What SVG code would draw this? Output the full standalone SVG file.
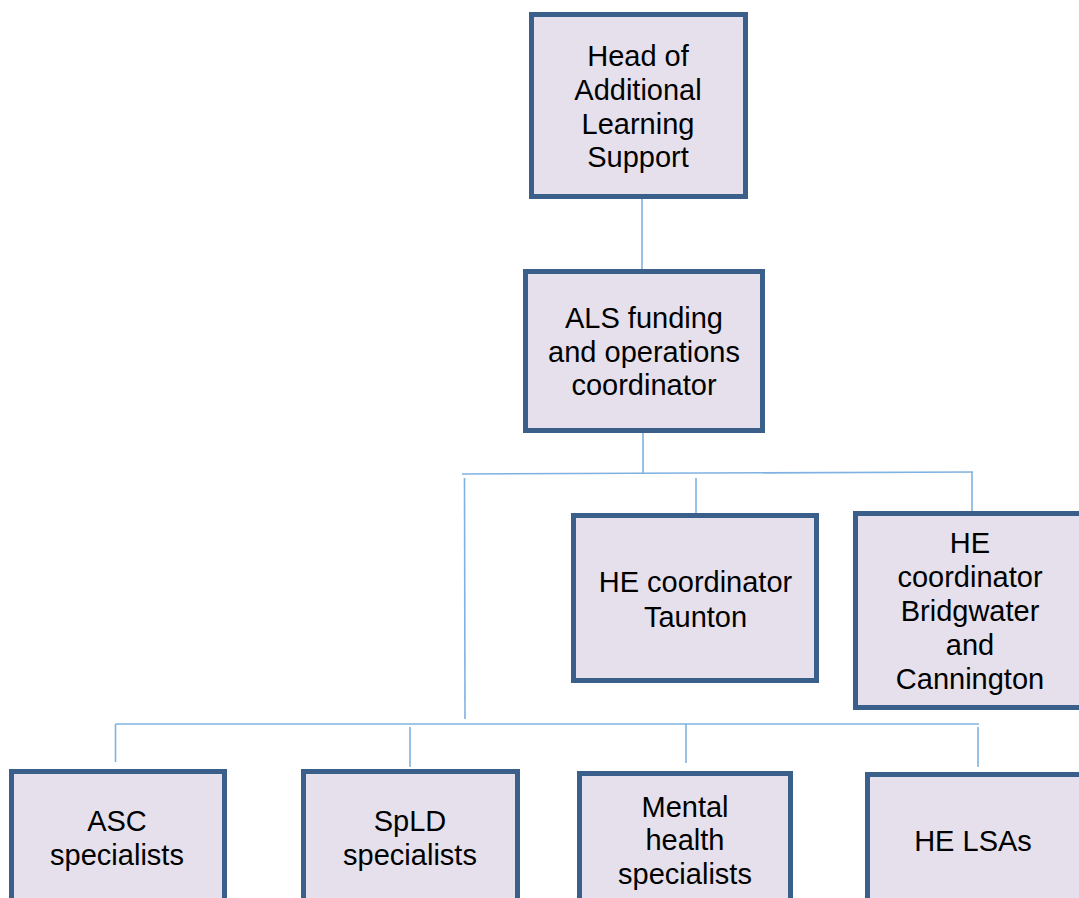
<svg xmlns="http://www.w3.org/2000/svg" width="1079" height="898" viewBox="0 0 1079 898">
<style>
.box{fill:#E5E0EC;stroke:#3A5F8B;stroke-width:5;}
.t{font-family:"Liberation Sans",Arial,sans-serif;font-size:29px;fill:#000;text-anchor:middle;}
.c{stroke:#7FB2E0;stroke-width:1.6;fill:none;}
</style>
<rect width="1079" height="898" fill="#fff"/>
<g id="connectors">
<line class="c" x1="642" y1="198" x2="642" y2="272"/>
<line class="c" x1="643" y1="433" x2="643" y2="474"/>
<line class="c" x1="462" y1="474" x2="973" y2="472"/>
<line class="c" x1="696" y1="478" x2="696" y2="516"/>
<line class="c" x1="972" y1="472" x2="972" y2="512"/>
<line class="c" x1="464.5" y1="478" x2="465" y2="719"/>
<line class="c" x1="115.5" y1="724" x2="979" y2="724"/>
<line class="c" x1="115.5" y1="724" x2="115.5" y2="762"/>
<line class="c" x1="410" y1="727" x2="410" y2="767"/>
<line class="c" x1="686" y1="724" x2="686" y2="763"/>
<line class="c" x1="978" y1="727" x2="978" y2="767"/>
</g>
<g id="head">
<rect class="box" x="531.5" y="14.5" width="214" height="182"/>
<text class="t" x="638" y="66">Head of</text>
<text class="t" x="638" y="100">Additional</text>
<text class="t" x="638" y="134">Learning</text>
<text class="t" x="638" y="167">Support</text>
</g>
<g id="als">
<rect class="box" x="525.5" y="271.5" width="237" height="159"/>
<text class="t" x="644" y="328">ALS funding</text>
<text class="t" x="644" y="362">and operations</text>
<text class="t" x="644" y="395">coordinator</text>
</g>
<g id="taunton">
<rect class="box" x="573.5" y="515.5" width="243" height="165"/>
<text class="t" x="695.5" y="592">HE coordinator</text>
<text class="t" x="695.5" y="627">Taunton</text>
</g>
<g id="bridgwater">
<rect class="box" x="855.5" y="513.5" width="229" height="194"/>
<text class="t" x="970" y="553">HE</text>
<text class="t" x="970" y="587">coordinator</text>
<text class="t" x="970" y="621">Bridgwater</text>
<text class="t" x="970" y="655">and</text>
<text class="t" x="970" y="689">Cannington</text>
</g>
<g id="asc">
<rect class="box" x="11.5" y="771.5" width="213" height="160"/>
<text class="t" x="117" y="831">ASC</text>
<text class="t" x="117" y="865">specialists</text>
</g>
<g id="spld">
<rect class="box" x="303.5" y="771.5" width="214" height="160"/>
<text class="t" x="410" y="831">SpLD</text>
<text class="t" x="410" y="865">specialists</text>
</g>
<g id="mental">
<rect class="box" x="579.5" y="773.5" width="211" height="160"/>
<text class="t" x="685" y="817">Mental</text>
<text class="t" x="685" y="850">health</text>
<text class="t" x="685" y="884">specialists</text>
</g>
<g id="lsas">
<rect class="box" x="867.5" y="774.5" width="220" height="160"/>
<text class="t" x="973" y="851">HE LSAs</text>
</g>
</svg>
